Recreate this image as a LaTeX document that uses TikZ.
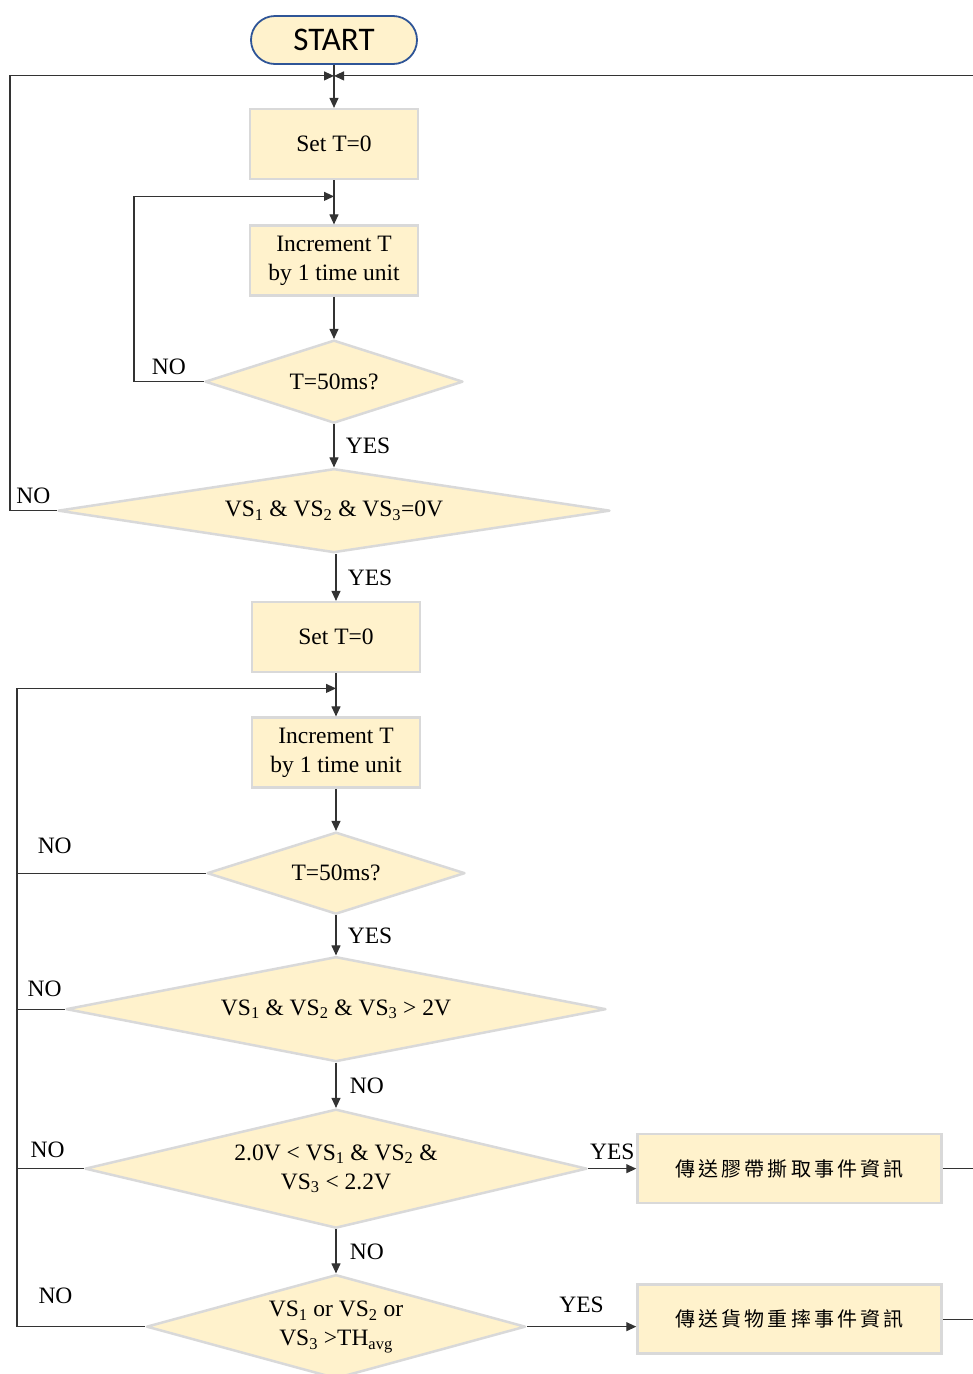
\documentclass[tikz,border=0pt]{standalone}
\usepackage{fontspec}
\setmainfont{Liberation Serif}
\newfontfamily\startfont{Carlito}
\newfontfamily\cjkfont[LetterSpace=16]{Noto Sans CJK TC}
\usepackage{tikz}
\usetikzlibrary{arrows.meta, positioning, calc, shapes.geometric}
\definecolor{colour_fill}{HTML}{FFF2CC}
\definecolor{colour_edge}{HTML}{D9D9D9}
\definecolor{colour_start}{HTML}{2F5597}
\colorlet{colour_line}{black!80}

\begin{document}
\begin{tikzpicture}
   [
      font=\fontsize{23.5}{29}\selectfont,
      terminal/.style={rectangle, rounded corners=24pt, draw=colour_start, line width=1.8pt, fill=colour_fill, minimum width=166pt, minimum height=48pt, font=\startfont\fontsize{33}{36}\selectfont},
      process/.style={rectangle, draw=colour_edge, line width=2.5pt, fill=colour_fill, minimum width=168pt, minimum height=70pt, align=center},
      message/.style={process, minimum width=304pt, minimum height=69pt, font=\cjkfont\fontsize{20}{24}\selectfont},
      decision/.style={diamond, draw=colour_edge, line width=2.5pt, line join=round, fill=colour_fill, inner sep=0pt, align=center},
      flow/.style={-{Triangle[length=10pt, width=9pt]}, line width=1.1pt, colour_line},
      link/.style={line width=1.1pt, colour_line},
      label node/.style={text=black},
   ]

   \useasboundingbox (0,0) rectangle (973pt,-1374pt);

   % =======================================================
   % First loop: wait until the three sensors read 0V
   % =======================================================

   \node[terminal] (Start) at (334pt,-40pt) {START};
   \node[process, below=43pt of Start] (Set_1) {Set T=0};
   \node[process, below=44pt of Set_1] (Inc_1) {Increment T\\by 1 time unit};
   \node[decision, aspect=3.1, minimum width=258pt, minimum height=83pt, below=42pt of Inc_1] (Chk_T1) {T=50ms?};
   \node[decision, aspect=6.6, minimum width=552pt, minimum height=84pt, below=43pt of Chk_T1] (Chk_Zero)
      {VS\textsubscript{1} \& VS\textsubscript{2} \& VS\textsubscript{3}=0V};

   \coordinate (Join_A) at ($(Start.south)+(0,-11pt)$);
   \coordinate (Bus_A) at ($(Join_A)+(-324pt,0)$);
   \coordinate (Edge_A) at ($(Join_A)+(645pt,0)$);
   \coordinate (Join_L) at ($(Set_1.south)+(0,-16pt)$);
   \coordinate (Bus_L) at ($(Join_L)+(-200pt,0)$);

   \draw[flow] (Start) -- (Set_1);
   \draw[flow] (Set_1) -- (Inc_1);
   \draw[flow] (Inc_1) -- (Chk_T1);
   \draw[flow] (Chk_T1) -- node[label node, midway, right=8pt] {YES} (Chk_Zero);

   \draw[flow] (Chk_T1.west) -| node[label node, pos=0.25, above=3pt] {NO} (Bus_L) -- (Join_L);
   \draw[flow] (Chk_Zero.west) -| node[label node, pos=0.25, above=3pt] {NO} (Bus_A) -- (Join_A);
   \draw[flow] (Edge_A) -- (Join_A);

   % =======================================================
   % Second loop: check the sensor voltages
   % =======================================================

   \node[process, below=47pt of Chk_Zero, xshift=2pt] (Set_2) {Set T=0};
   \node[process, below=43pt of Set_2] (Inc_2) {Increment T\\by 1 time unit};
   \node[decision, aspect=3.1, minimum width=258pt, minimum height=82pt, below=42pt of Inc_2] (Chk_T2) {T=50ms?};
   \node[decision, aspect=5.1, minimum width=540pt, minimum height=105pt, below=40pt of Chk_T2] (Chk_High)
      {VS\textsubscript{1} \& VS\textsubscript{2} \& VS\textsubscript{3} > 2V};
   \node[decision, aspect=4.2, minimum width=502pt, minimum height=119pt, below=45pt of Chk_High] (Chk_Tape)
      {2.0V < VS\textsubscript{1} \& VS\textsubscript{2} \&\\VS\textsubscript{3} < 2.2V};
   \node[decision, aspect=3.6, minimum width=379pt, minimum height=104pt, below=44pt of Chk_Tape] (Chk_Drop)
      {VS\textsubscript{1} or VS\textsubscript{2} or\\VS\textsubscript{3} >TH\textsubscript{avg}};

   \node[message, right=48pt of Chk_Tape] (Msg_Tape) {傳送膠帶撕取事件資訊};
   \node[message, below=79pt of Msg_Tape] (Msg_Drop) {傳送貨物重摔事件資訊};

   \coordinate (Join_B) at ($(Set_2.south)+(0,-15pt)$);
   \coordinate (Bus_B) at ($(Join_B)+(-319pt,0)$);

   \draw[flow] (Chk_Zero.south -| Set_2) -- node[label node, midway, right=8pt] {YES} (Set_2);
   \draw[flow] (Set_2) -- (Inc_2);
   \draw[flow] (Inc_2) -- (Chk_T2);
   \draw[flow] (Chk_T2) -- node[label node, midway, right=8pt] {YES} (Chk_High);
   \draw[flow] (Chk_High) -- node[label node, midway, right=10pt] {NO} (Chk_Tape);
   \draw[flow] (Chk_Tape) -- node[label node, midway, right=10pt] {NO} (Chk_Drop);

   \draw[flow] (Chk_Tape) -- node[label node, midway, above=5pt] {YES} (Msg_Tape);
   \draw[flow] (Chk_Drop.east) -- node[label node, midway, above=10pt] {YES} (Chk_Drop.east -| Msg_Drop.west);

   \draw[link] (Chk_T2.west) -- node[label node, pos=0.8, above=16pt] {NO} (Chk_T2.west -| Bus_B);
   \draw[link] (Chk_High.west) -- node[label node, pos=0.42, above=9pt] {NO} (Chk_High.west -| Bus_B);
   \draw[link] (Chk_Tape.west) -- node[label node, pos=0.54, above=7pt] {NO} (Chk_Tape.west -| Bus_B);
   \draw[flow] (Chk_Drop.west) -| node[label node, pos=0.35, above=19pt] {NO} (Bus_B) -- (Join_B);

   \draw[link] (Msg_Tape.east) -- (Msg_Tape.east -| Edge_A);
   \draw[link] (Msg_Drop.east) -- (Msg_Drop.east -| Edge_A);

\end{tikzpicture}
\end{document}
